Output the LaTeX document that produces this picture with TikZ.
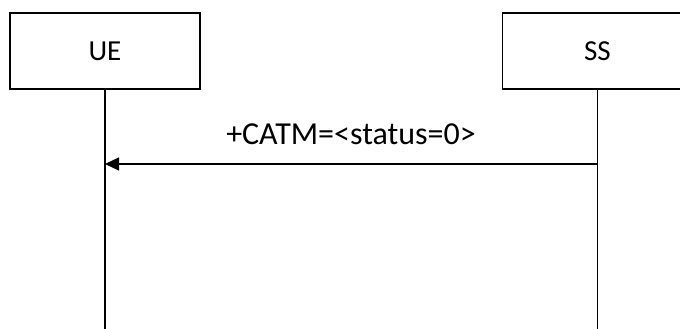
\documentclass[tikz,border=0pt]{standalone}
\usepackage{fontspec}
\setmainfont{Carlito}
\usetikzlibrary{arrows.meta}
\begin{document}
\begin{tikzpicture}[x=1pt,y=-1pt,
  entity/.style={draw=black,line width=1.2pt,minimum width=190pt,minimum height=76pt,inner sep=0pt,font=\fontsize{29}{31}\selectfont},
  lifeline/.style={draw=black,line width=1.2pt},
  msg/.style={draw=black,line width=1.2pt,-{Triangle[length=14pt,width=13pt]}},
  msglabel/.style={font=\fontsize{32}{34}\selectfont,inner sep=0pt,anchor=base}]
\useasboundingbox (0,0) rectangle (680,329);
\clip (0,0) rectangle (680,329);
\node[entity] (ue) at (105,51) {UE};
\node[entity] (ss) at (597.5,51) {SS};
\coordinate (ueend) at (105,335);
\coordinate (ssend) at (597.5,335);
\draw[lifeline] (ue.south) -- (ueend);
\draw[lifeline] (ss.south) -- (ssend);
\coordinate (m1s) at (597.5,164);
\coordinate (m1e) at (105,164);
\draw[msg] (m1s) -- (m1e);
\node[msglabel] (lbl) at (351,144) {+CATM=<status=0>};
\end{tikzpicture}
\end{document}
